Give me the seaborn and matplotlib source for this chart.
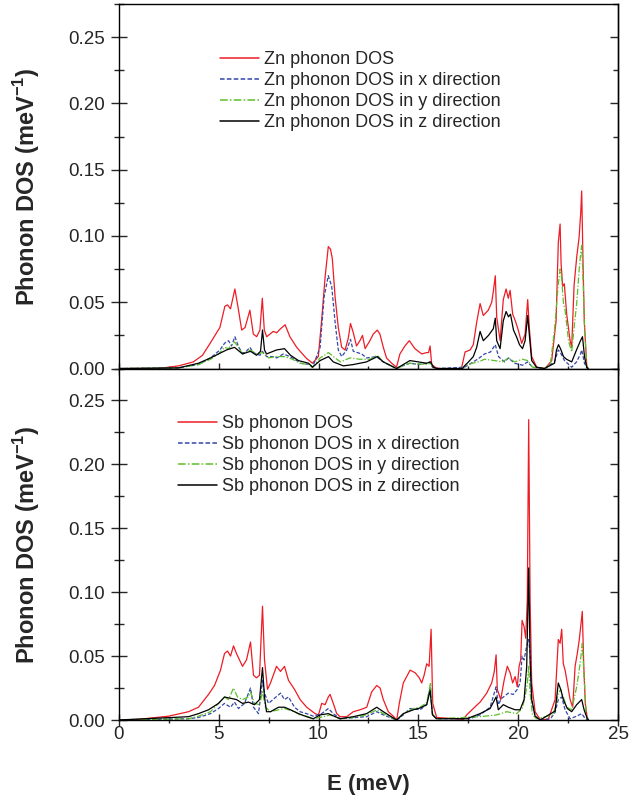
import pandas as pd
import seaborn as sns
import matplotlib.pyplot as plt
from matplotlib.lines import Line2D
from matplotlib.ticker import MultipleLocator

# --- Zn panel ---
zn_tot_E = [0, 2.0, 2.5, 3.0, 3.74, 4.2, 4.58, 5.07, 5.32, 5.45, 5.6, 5.82, 5.99, 6.16, 6.33, 6.57, 6.74, 6.91,
            7.07, 7.19, 7.29, 7.41, 7.74, 7.91, 8.1, 8.33, 8.57, 8.91, 9.08, 9.41, 9.7, 9.99, 10.16, 10.33, 10.49,
            10.6, 10.69, 10.83, 10.99, 11.16, 11.33, 11.49, 11.6, 11.74, 11.9, 12.07, 12.2, 12.33, 12.57, 12.74,
            12.94, 13.07, 13.24, 13.4, 13.66, 13.9, 14.07, 14.32, 14.54, 14.82, 15.16, 15.4, 15.5, 15.58, 15.66,
            15.83, 16.0, 17.0, 17.16, 17.33, 17.58, 17.74, 17.91, 18.08, 18.24, 18.49, 18.66, 18.74, 18.84, 18.91,
            19.08, 19.24, 19.38, 19.49, 19.58, 19.71, 19.84, 19.99, 20.16, 20.33, 20.46, 20.54, 20.66, 20.91, 21.33,
            21.66, 21.88, 21.99, 22.08, 22.13, 22.21, 22.29, 22.41, 22.58, 22.66, 22.78, 22.91, 23.03, 23.11, 23.16,
            23.23, 23.29, 23.41, 23.48]
zn_tot = [0, 0, 0.001, 0.002, 0.005, 0.010, 0.019, 0.031, 0.047, 0.048, 0.045, 0.060, 0.045, 0.029, 0.031, 0.044,
          0.026, 0.024, 0.029, 0.053, 0.029, 0.024, 0.028, 0.027, 0.030, 0.033, 0.024, 0.016, 0.013, 0.0075, 0.004,
          0.009, 0.037, 0.069, 0.092, 0.090, 0.083, 0.054, 0.031, 0.016, 0.014, 0.023, 0.034, 0.027, 0.017, 0.021,
          0.025, 0.015, 0.021, 0.026, 0.029, 0.026, 0.016, 0.008, 0.004, 0.001, 0.011, 0.017, 0.021, 0.015, 0.011,
          0.012, 0.012, 0.017, 0.003, 0.001, 0, 0, 0.001, 0.0125, 0.014, 0.018, 0.035, 0.049, 0.040, 0.044, 0.050,
          0.058, 0.070, 0.039, 0.021, 0.052, 0.060, 0.053, 0.059, 0.041, 0.036, 0.029, 0.019, 0.026, 0.052, 0.031,
          0.009, 0.001, 0, 0.006, 0.036, 0.095, 0.109, 0.079, 0.062, 0.064, 0.041, 0.021, 0.016, 0.063, 0.084, 0.099,
          0.117, 0.134, 0.077, 0.036, 0.0025, 0]

zn_x_E = [0, 3.0, 4.0, 4.6, 5.07, 5.3, 5.5, 5.65, 5.82, 5.99, 6.16, 6.33, 6.57, 6.74, 6.91, 7.07, 7.19, 7.41, 7.74,
          7.91, 8.24, 8.57, 8.91, 9.08, 9.57, 9.7, 10.08, 10.28, 10.49, 10.66, 10.83, 10.99, 11.16, 11.41, 11.6,
          11.74, 12.16, 12.4, 12.9, 13.24, 13.9, 14.2, 14.57, 15.0, 15.4, 15.57, 15.7, 15.9, 17.3, 17.74, 18.0, 18.3,
          18.6, 18.84, 19.0, 19.3, 19.5, 19.8, 20.2, 20.46, 20.7, 21.3, 21.8, 21.99, 22.08, 22.3, 22.66, 22.9, 23.1,
          23.16, 23.3, 23.41, 23.48]
zn_x = [0, 0.0005, 0.003, 0.008, 0.014, 0.019, 0.021, 0.017, 0.024, 0.017, 0.012, 0.012, 0.016, 0.012, 0.011, 0.010,
        0.013, 0.009, 0.009, 0.008, 0.011, 0.009, 0.006, 0.004, 0.003, 0.001, 0.016, 0.054, 0.070, 0.062, 0.035, 0.014,
        0.009, 0.014, 0.022, 0.013, 0.011, 0.008, 0.009, 0.005, 0, 0.002, 0.004, 0.003, 0.004, 0.005, 0.001, 0, 0.001,
        0.005, 0.0075, 0.011, 0.0125, 0.018, 0.009, 0.005, 0.008, 0.004, 0.0025, 0.005, 0.001, 0, 0.005, 0.014, 0.0125,
        0.006, 0.001, 0.005, 0.011, 0.014, 0.004, 0.0005, 0]

zn_y_E = [0, 3.0, 4.0, 4.6, 5.0, 5.3, 5.5, 5.8, 6.0, 6.2, 6.6, 6.9, 7.2, 7.5, 7.9, 8.3, 8.7, 9.08, 9.5, 9.7, 10.08,
          10.5, 10.74, 11.1, 11.57, 12.07, 12.57, 12.94, 13.24, 13.9, 14.57, 15.4, 15.6, 15.75, 15.9, 17.2, 17.33,
          17.7, 18.0, 18.3, 18.8, 19.2, 19.5, 19.8, 20.2, 20.46, 20.7, 21.3, 21.6, 21.8, 21.99, 22.08, 22.15, 22.25,
          22.33, 22.5, 22.66, 22.8, 22.91, 23.03, 23.11, 23.16, 23.23, 23.3, 23.41, 23.48]
zn_y = [0, 0.0005, 0.003, 0.007, 0.011, 0.016, 0.015, 0.020, 0.016, 0.011, 0.014, 0.011, 0.012, 0.008, 0.009, 0.009,
        0.007, 0.004, 0.003, 0.001, 0.008, 0.012, 0.009, 0.005, 0.008, 0.007, 0.007, 0.010, 0.005, 0, 0.004, 0.003,
        0.004, 0.001, 0, 0, 0.002, 0.004, 0.005, 0.007, 0.006, 0.005, 0.008, 0.005, 0.007, 0.006, 0.001, 0, 0.004,
        0.029, 0.064, 0.075, 0.069, 0.049, 0.044, 0.021, 0.0125, 0.034, 0.049, 0.074, 0.087, 0.093, 0.067, 0.031,
        0.002, 0]

zn_z_E = [0, 3.0, 4.0, 4.6, 5.0, 5.4, 5.8, 6.2, 6.6, 6.9, 7.1, 7.2, 7.3, 7.4, 7.9, 8.3, 8.6, 9.0, 9.5, 9.7, 10.08,
          10.5, 10.74, 11.24, 11.74, 12.4, 12.94, 13.24, 13.9, 14.57, 15.0, 15.4, 15.6, 15.75, 15.9, 17.2, 17.3, 17.5,
          17.74, 17.91, 18.08, 18.24, 18.5, 18.74, 18.84, 18.91, 19.08, 19.24, 19.38, 19.5, 19.6, 19.75, 19.9, 20.05,
          20.2, 20.33, 20.46, 20.55, 20.66, 20.9, 21.3, 21.8, 21.9, 22.0, 22.1, 22.25, 22.4, 22.66, 22.9, 23.1, 23.2,
          23.3, 23.41, 23.48]
zn_z = [0, 0.0005, 0.004, 0.008, 0.011, 0.014, 0.016, 0.011, 0.013, 0.010, 0.013, 0.029, 0.014, 0.011, 0.014, 0.015,
        0.010, 0.006, 0.004, 0.001, 0.006, 0.009, 0.005, 0.002, 0.003, 0.005, 0.009, 0.005, 0, 0.006, 0.005, 0.004,
        0.005, 0.001, 0, 0, 0.002, 0.005, 0.009, 0.016, 0.028, 0.021, 0.025, 0.030, 0.038, 0.021, 0.015, 0.036, 0.043,
        0.039, 0.041, 0.029, 0.024, 0.018, 0.015, 0.021, 0.040, 0.024, 0.006, 0.001, 0, 0.004, 0.014, 0.018, 0.015,
        0.009, 0.007, 0.005, 0.014, 0.021, 0.024, 0.009, 0.001, 0]

# --- Sb panel ---
sb_tot_E = [0, 1.0, 2.5, 3.5, 4.0, 4.5, 4.8, 5.1, 5.3, 5.45, 5.6, 5.75, 5.9, 6.05, 6.2, 6.4, 6.6, 6.75, 6.9, 7.05,
            7.2, 7.3, 7.45, 7.6, 7.9, 8.1, 8.3, 8.5, 8.8, 9.08, 9.41, 9.83, 10.0, 10.16, 10.33, 10.49, 10.58, 10.74,
            10.91, 11.08, 11.41, 11.74, 12.08, 12.41, 12.66, 12.91, 13.08, 13.24, 13.49, 13.74, 13.91, 14.04, 14.24,
            14.58, 14.83, 15.04, 15.16, 15.28, 15.41, 15.53, 15.63, 15.71, 15.91, 17.24, 17.41, 17.74, 18.08, 18.41,
            18.66, 18.79, 18.88, 18.94, 19.11, 19.28, 19.44, 19.58, 19.71, 19.83, 19.94, 20.03, 20.11, 20.18, 20.28,
            20.36, 20.44, 20.51, 20.58, 20.66, 20.83, 21.08, 21.49, 21.83, 21.99, 22.08, 22.16, 22.24, 22.33, 22.44,
            22.58, 22.71, 22.83, 22.94, 23.04, 23.13, 23.19, 23.26, 23.34, 23.44, 23.5]
sb_tot = [0, 0.0005, 0.003, 0.0065, 0.010, 0.020, 0.027, 0.039, 0.052, 0.054, 0.050, 0.058, 0.052, 0.047, 0.042,
          0.047, 0.061, 0.035, 0.033, 0.035, 0.089, 0.047, 0.024, 0.029, 0.042, 0.038, 0.042, 0.031, 0.024, 0.016,
          0.010, 0.005, 0.004, 0.013, 0.012, 0.018, 0.020, 0.013, 0.005, 0.0026, 0.0026, 0.0065, 0.008, 0.010, 0.022,
          0.027, 0.025, 0.016, 0.0065, 0.003, 0, 0.013, 0.029, 0.039, 0.037, 0.033, 0.029, 0.035, 0.044, 0.042, 0.071,
          0.013, 0.002, 0.0005, 0.004, 0.009, 0.014, 0.021, 0.029, 0.038, 0.051, 0.024, 0.016, 0.031, 0.042, 0.037,
          0.029, 0.034, 0.026, 0.042, 0.047, 0.078, 0.073, 0.064, 0.094, 0.235, 0.094, 0.029, 0.0065, 0.0005, 0.0005,
          0.016, 0.063, 0.060, 0.071, 0.044, 0.039, 0.029, 0.016, 0.010, 0.042, 0.052, 0.063, 0.076, 0.085, 0.044,
          0.013, 0.001, 0]

sb_x_E = [0, 3.5, 4.0, 4.6, 5.0, 5.3, 5.6, 5.8, 6.0, 6.3, 6.6, 6.75, 7.0, 7.2, 7.3, 7.5, 7.8, 8.1, 8.3, 8.5, 8.8, 9.08,
          9.4, 9.74, 10.16, 10.49, 10.74, 11.08, 12.41, 12.91, 13.24, 13.91, 14.24, 14.58, 15.08, 15.41, 15.58, 15.7,
          15.9, 17.58, 18.08, 18.58, 18.88, 18.99, 19.16, 19.49, 19.74, 19.94, 20.08, 20.18, 20.28, 20.41, 20.51,
          20.58, 20.66, 20.83, 21.08, 21.6, 21.83, 21.99, 22.16, 22.33, 22.58, 22.91, 23.16, 23.34, 23.5]
sb_x = [0, 0.001, 0.002, 0.005, 0.009, 0.013, 0.010, 0.014, 0.009, 0.013, 0.025, 0.010, 0.005, 0.031, 0.021, 0.013,
        0.017, 0.021, 0.016, 0.018, 0.010, 0.0065, 0.005, 0.003, 0.005, 0.009, 0.005, 0.001, 0.0026, 0.0065, 0.004, 0,
        0.004, 0.009, 0.008, 0.012, 0.026, 0.004, 0.001, 0.001, 0.004, 0.010, 0.026, 0.012, 0.017, 0.021, 0.020, 0.024,
        0.029, 0.050, 0.047, 0.058, 0.063, 0.052, 0.016, 0.003, 0, 0.001, 0.006, 0.016, 0.018, 0.008, 0.001, 0.003,
        0.005, 0.001, 0]

sb_y_E = [0, 3.5, 4.0, 4.6, 5.0, 5.3, 5.5, 5.75, 5.95, 6.2, 6.5, 6.6, 6.8, 7.05, 7.2, 7.35, 7.6, 8.0, 8.3, 8.8, 9.08,
          9.4, 9.74, 10.24, 10.58, 11.08, 11.74, 12.41, 12.91, 13.24, 13.91, 14.24, 14.74, 15.08, 15.41, 15.6, 15.7,
          15.9, 18.08, 18.91, 19.41, 19.91, 20.18, 20.33, 20.44, 20.51, 20.58, 20.7, 20.9, 21.74, 21.99, 22.11, 22.24,
          22.41, 22.66, 22.91, 23.08, 23.19, 23.28, 23.38, 23.5]
sb_y = [0, 0.001, 0.003, 0.0065, 0.013, 0.018, 0.016, 0.025, 0.018, 0.016, 0.018, 0.022, 0.013, 0.012, 0.022, 0.010,
        0.0065, 0.008, 0.009, 0.0065, 0.004, 0.003, 0.001, 0.0026, 0.004, 0.001, 0.002, 0.004, 0.008, 0.005, 0, 0.005,
        0.009, 0.010, 0.0136, 0.029, 0.005, 0.001, 0.0026, 0.004, 0.0065, 0.005, 0.009, 0.018, 0.029, 0.042, 0.021,
        0.004, 0.001, 0.004, 0.021, 0.024, 0.018, 0.010, 0.008, 0.026, 0.044, 0.060, 0.034, 0.005, 0]

sb_z_E = [0, 3.5, 4.0, 4.5, 5.0, 5.3, 5.6, 5.9, 6.2, 6.5, 6.8, 7.05, 7.2, 7.3, 7.4, 7.6, 8.0, 8.3, 8.6, 9.0, 9.4, 9.74,
          10.08, 10.49, 11.08, 11.74, 12.41, 12.91, 13.24, 13.91, 14.24, 14.74, 15.08, 15.41, 15.58, 15.7, 15.9, 17.41,
          18.08, 18.58, 18.88, 18.99, 19.24, 19.49, 19.83, 20.08, 20.28, 20.41, 20.51, 20.58, 20.66, 20.83, 21.08,
          21.83, 21.99, 22.11, 22.24, 22.44, 22.66, 22.91, 23.16, 23.28, 23.44, 23.5]
sb_z = [0, 0.0026, 0.005, 0.008, 0.013, 0.018, 0.017, 0.016, 0.013, 0.014, 0.012, 0.016, 0.041, 0.018, 0.0065, 0.0065,
        0.010, 0.010, 0.008, 0.005, 0.0026, 0.001, 0.004, 0.005, 0.001, 0.0026, 0.005, 0.010, 0.0065, 0, 0.005, 0.008,
        0.0094, 0.012, 0.023, 0.004, 0.001, 0.001, 0.005, 0.009, 0.018, 0.008, 0.012, 0.010, 0.008, 0.008, 0.016,
        0.042, 0.119, 0.047, 0.016, 0.003, 0, 0.007, 0.029, 0.024, 0.016, 0.009, 0.0065, 0.012, 0.016, 0.008, 0.001, 0]

components = ["", " in x direction", " in y direction", " in z direction"]
colors = ["#ee1c25", "#3447a8", "#5cbf2a", "#000000"]
dash_styles = ["", (3, 1.5), (5, 1.5, 1, 1.5), ""]


def long_table(element, pairs):
    frames = []
    for comp, (E, dos) in zip(components, pairs):
        frames.append(pd.DataFrame({"E": E, "dos": dos, "series": f"{element} phonon DOS{comp}"}))
    return pd.concat(frames, ignore_index=True)


zn_df = long_table("Zn", [(zn_tot_E, zn_tot), (zn_x_E, zn_x), (zn_y_E, zn_y), (zn_z_E, zn_z)])
sb_df = long_table("Sb", [(sb_tot_E, sb_tot), (sb_x_E, sb_x), (sb_y_E, sb_y), (sb_z_E, sb_z)])

sns.set_style("white")
plt.rcParams["font.family"] = ["Liberation Sans", "DejaVu Sans"]
plt.rcParams["axes.linewidth"] = 1.0

fig = plt.figure(figsize=(6.29, 7.97), dpi=100)
ax_top = fig.add_axes([0.1884, 0.5376, 0.7949, 0.4574])
ax_bot = fig.add_axes([0.1884, 0.0966, 0.7949, 0.4410])

# legend anchor (axes fraction) for each panel
for ax, df, element, leg_xy in [(ax_top, zn_df, "Zn", (0.203, 0.87)), (ax_bot, sb_df, "Sb", (0.119, 0.868))]:
    names = [f"{element} phonon DOS{c}" for c in components]
    sns.lineplot(data=df, x="E", y="dos", hue="series", style="series", hue_order=names, style_order=names,
                 palette=dict(zip(names, colors)), dashes=dict(zip(names, dash_styles)),
                 estimator=None, sort=False, linewidth=0.9, legend=False, ax=ax)
    ax.set_xlim(0, 25)
    ax.set_ylim(0, 0.275)
    ax.xaxis.set_major_locator(MultipleLocator(5))
    ax.xaxis.set_minor_locator(MultipleLocator(2.5))
    ax.yaxis.set_major_locator(MultipleLocator(0.05))
    ax.yaxis.set_minor_locator(MultipleLocator(0.025))
    ax.yaxis.set_major_formatter(lambda v, p: f"{v:.2f}")
    ax.tick_params(axis="y", which="both", left=True)
    ax.tick_params(axis="x", which="both", bottom=True)
    ax.tick_params(axis="y", which="major", direction="inout", length=12, width=1, labelsize=13.5, pad=3.6)
    ax.tick_params(axis="y", which="minor", direction="inout", length=6.5, width=1)
    ax.tick_params(axis="x", which="major", direction="inout", length=9, width=1, labelsize=13.5, pad=0)
    ax.tick_params(axis="x", which="minor", direction="inout", length=4.5, width=1)
    right = ax.secondary_yaxis("right")
    right.yaxis.set_major_locator(MultipleLocator(0.05))
    right.yaxis.set_minor_locator(MultipleLocator(0.025))
    right.tick_params(which="both", right=True)
    right.tick_params(which="major", direction="in", length=6, width=1, labelright=False)
    right.tick_params(which="minor", direction="in", length=3.5, width=1, labelright=False)
    for s in ax.spines.values():
        s.set_color("black")
    ax.set_ylabel("Phonon DOS (meV$^{\\mathregular{-1}}$)", fontsize=17, fontweight="bold")
    ax.yaxis.set_label_coords(-0.153, 0.5)
    ax.set_xlabel("")
    handles = [Line2D([], [], color=c, linewidth=1.1, dashes=d if d else (None, None)) for c, d in
               zip(colors, dash_styles)]
    ax.legend(handles=handles, labels=names, loc="upper left", bbox_to_anchor=leg_xy,
              frameon=False, fontsize=13, borderpad=0, borderaxespad=0, labelspacing=0.22,
              handlelength=2.15, handletextpad=0.27)

ax_top.tick_params(axis="x", labelbottom=False)
ax_bot.set_xlabel("E (meV)", fontsize=16, fontweight="bold", labelpad=22)

plt.savefig("out.png", dpi=100)
